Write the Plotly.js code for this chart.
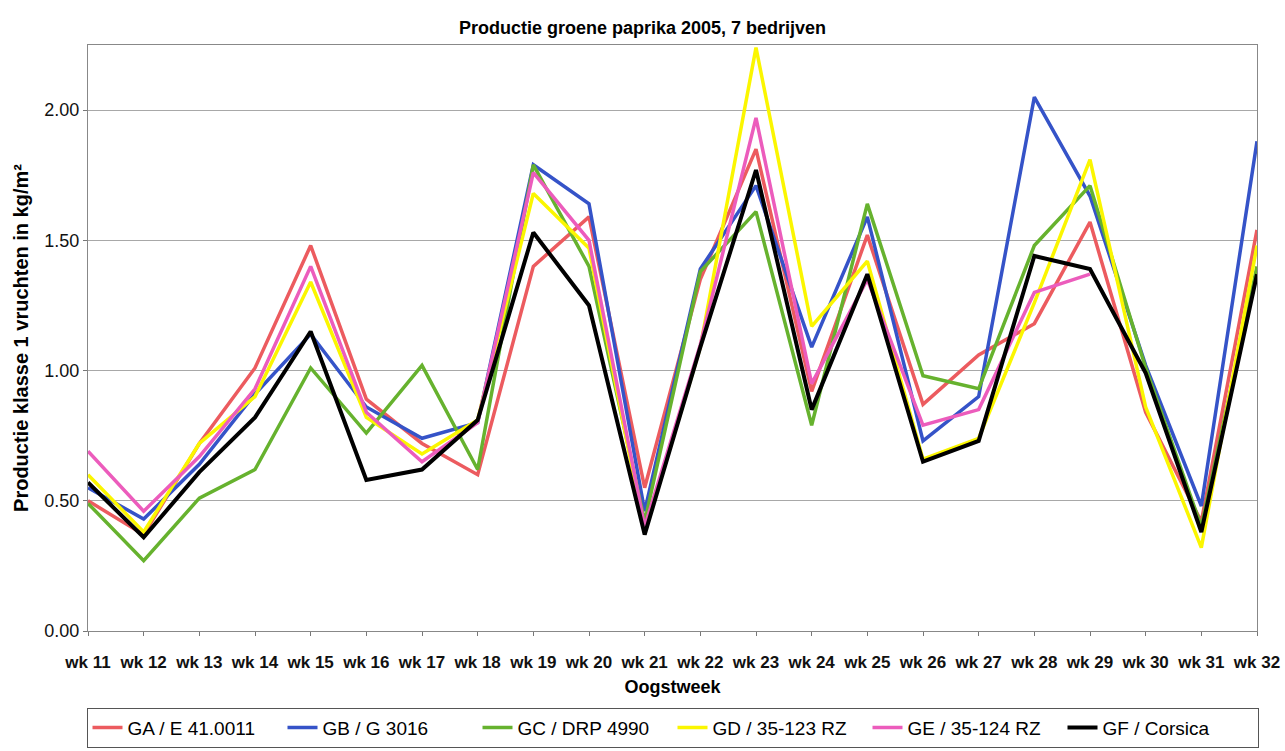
<!DOCTYPE html>
<html><head><meta charset="utf-8">
<script src="https://cdn.plot.ly/plotly-3.0.1.min.js"></script>
<style>html,body{margin:0;padding:0;background:#fff}#chart{width:1285px;height:751px}</style>
</head><body><div id="chart"></div>
<script>
const weeks = ["wk 11","wk 12","wk 13","wk 14","wk 15","wk 16","wk 17","wk 18","wk 19","wk 20","wk 21","wk 22","wk 23","wk 24","wk 25","wk 26","wk 27","wk 28","wk 29","wk 30","wk 31","wk 32"];
const seriesNames = ["GA / E 41.0011","GB / G 3016","GC / DRP 4990","GD / 35-123 RZ","GE / 35-124 RZ","GF / Corsica"];
const GA = [0.50,0.37,0.72,1.01,1.48,0.89,0.72,0.60,1.40,1.59,0.55,1.35,1.85,0.92,1.52,0.87,1.06,1.18,1.57,0.84,0.42,1.54];
const GB = [0.55,0.43,0.64,0.91,1.14,0.86,0.74,0.80,1.79,1.64,0.46,1.39,1.71,1.09,1.59,0.73,0.90,2.05,1.67,1.02,0.48,1.88];
const GC = [0.49,0.27,0.51,0.62,1.01,0.76,1.02,0.62,1.79,1.40,0.42,1.38,1.61,0.79,1.64,0.98,0.93,1.48,1.71,1.01,0.40,1.40];
const GD = [0.60,0.38,0.72,0.90,1.34,0.82,0.68,0.81,1.68,1.47,0.38,1.09,2.24,1.17,1.42,0.66,0.74,1.26,1.81,0.86,0.32,1.48];
const GE = [0.69,0.46,0.67,0.93,1.40,0.84,0.65,0.80,1.76,1.50,0.40,1.10,1.97,0.95,1.35,0.79,0.85,1.30,1.37,null,null,1.39];
const GF = [0.57,0.36,0.61,0.82,1.15,0.58,0.62,0.81,1.53,1.25,0.37,1.09,1.77,0.85,1.37,0.65,0.73,1.44,1.39,0.99,0.38,1.37];
const yTicks = [0,0.5,1.0,1.5,2.0];
const yTickText = ["0.00","0.50","1.00","1.50","2.00"];

const data = [GA,GB,GC,GD,GE,GF];
const colors = ["#ec5b5f","#3553c8","#66b22e","#fbf600","#ec5cbc","#000000"];
const widths = [3.5,3.5,3.5,3.5,3.5,4];
const xIdx = weeks.map((w,i)=>i);
const traces = data.map((vals,k)=>({
  x: xIdx, y: vals, name: seriesNames[k], type:'scatter', mode:'lines',
  line:{color:colors[k], width:widths[k]}, connectgaps:false
}));
const fnt = "'Liberation Sans',Arial,sans-serif";
const layout = {
  width:1285, height:751,
  paper_bgcolor:'#fff', plot_bgcolor:'#fff',
  margin:{l:88, r:28, t:45, b:120, autoexpand:false},
  title:{text:'<b>Productie groene paprika 2005, 7 bedrijven</b>', font:{family:fnt, size:18, color:'#000'}, x:0.5, xanchor:'center', y:0.963, yanchor:'middle'},
  font:{family:fnt, color:'#000'},
  xaxis:{
    range:[0,21], tickvals:xIdx, ticktext:weeks, tickfont:{family:fnt, size:17, color:'#111', weight:'bold'},
    ticks:'outside', ticklen:4, tickcolor:'#777', ticklabelstandoff:12, showgrid:false, zeroline:false,
    showline:true, linecolor:'#888', linewidth:1, mirror:true,
    title:{text:'<b>Oogstweek</b>', font:{family:fnt, size:18, color:'#000'}, standoff:8}
  },
  yaxis:{
    range:[0,2.25], tickvals:yTicks, ticktext:yTickText, tickfont:{family:fnt, size:18, color:'#111'},
    ticks:'outside', ticklen:4, tickcolor:'#777', showgrid:true, gridcolor:'#a8a8a8', gridwidth:1, zeroline:false,
    showline:true, linecolor:'#888', linewidth:1, mirror:true,
    title:{text:'<b>Productie klasse 1 vruchten in kg/m²</b>', font:{family:fnt, size:20, color:'#000'}, standoff:10}
  },
  showlegend:true,
  legend:{orientation:'h', x:0.5, xanchor:'center', y:-0.131, yanchor:'top',
    bordercolor:'#555', borderwidth:1, bgcolor:'#fff',
    font:{family:fnt, size:19, color:'#000'}, itemwidth:30, entrywidth:150, traceorder:'normal'}
};
Plotly.newPlot('chart', traces, layout, {displayModeBar:false, staticPlot:true});
</script></body></html>
